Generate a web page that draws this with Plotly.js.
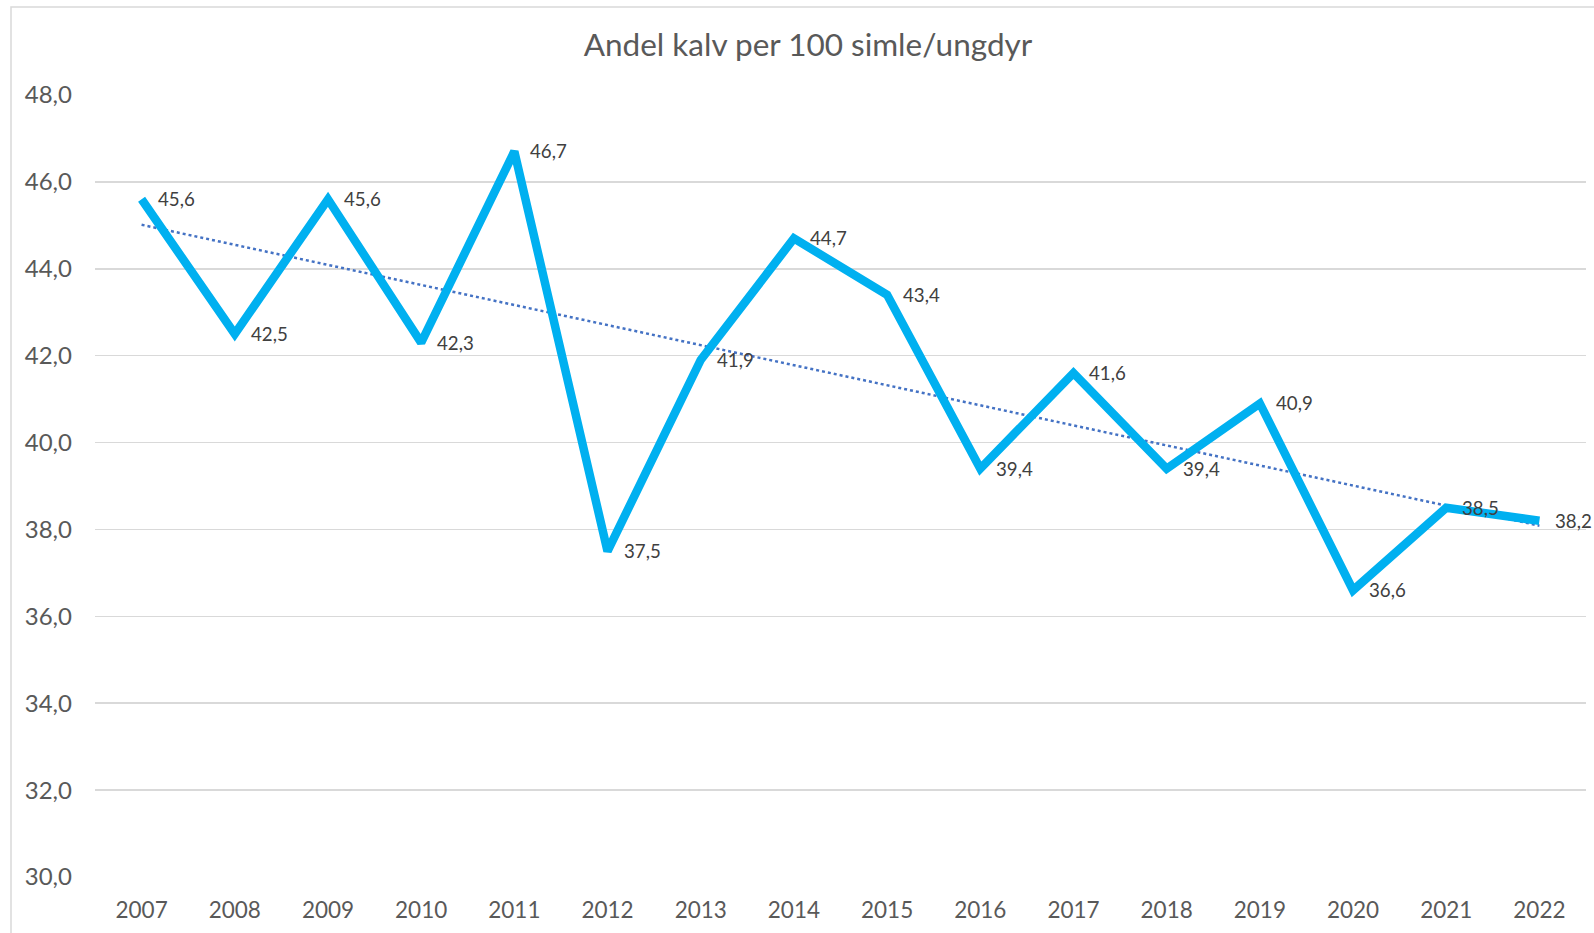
<!DOCTYPE html>
<html>
<head>
<meta charset="utf-8">
<script src="https://cdn.plot.ly/plotly-3.0.1.min.js"></script>
<style>html,body{margin:0;padding:0;background:#fff;}#chart{width:1594px;height:933px;}</style>
</head>
<body>
<div id="chart"></div>
<script>
const years = ["2007","2008","2009","2010","2011","2012","2013","2014","2015","2016","2017","2018","2019","2020","2021","2022"];
const values = [45.6,42.5,45.6,42.3,46.7,37.5,41.9,44.7,43.4,39.4,41.6,39.4,40.9,36.6,38.5,38.2];
const yTicks = [30,32,34,36,38,40,42,44,46,48];
const titleText = "Andel kalv per 100 simle/ungdyr";

const fmt = v => v.toFixed(1).replace('.', ',');

// Linear trendline (least squares) derived from the series
const n = values.length;
const idx = values.map((_, i) => i);
const mx = idx.reduce((a, b) => a + b, 0) / n;
const my = values.reduce((a, b) => a + b, 0) / n;
let sxy = 0, sxx = 0;
idx.forEach((x, i) => { sxy += (x - mx) * (values[i] - my); sxx += (x - mx) * (x - mx); });
const slope = sxy / sxx;
const icpt = my - slope * mx;
const trend = idx.map(x => icpt + slope * x);

const FONT = "Lato, 'Open Sans', sans-serif";

const traces = [
  {
    x: idx, y: trend, type: 'scatter', mode: 'lines',
    line: {color: '#4472C4', width: 2.5, dash: 'dot'},
    hoverinfo: 'skip', showlegend: false
  },
  {
    x: idx, y: values, type: 'scatter', mode: 'lines',
    line: {color: '#00B0F0', width: 8.5, shape: 'linear'},
    showlegend: false
  }
];

const annotations = idx.map(i => ({
  x: i, y: values[i], xref: 'x', yref: 'y',
  text: fmt(values[i]), showarrow: false,
  xanchor: 'left', yanchor: 'middle', xshift: 14,
  font: {family: FONT, size: 18.7, color: '#404040'}
}));

const layout = {
  width: 1594, height: 933,
  margin: {l: 95, r: 8, t: 95, b: 56, pad: 0},
  paper_bgcolor: '#ffffff', plot_bgcolor: '#ffffff',
  showlegend: false,
  title: {
    text: titleText, xref: 'container', yref: 'container',
    x: 808/1594, y: 1 - 45/933, xanchor: 'center', yanchor: 'middle',
    font: {family: FONT, size: 31.5, color: '#595959'}
  },
  xaxis: {
    type: 'linear', range: [-0.5, 15.5], fixedrange: true,
    tickvals: idx, ticktext: years,
    showgrid: false, zeroline: false, showline: false, ticks: '',
    tickfont: {family: FONT, size: 22.5, color: '#595959'},
    ticklabelstandoff: 17
  },
  yaxis: {
    range: [30, 48], tickvals: yTicks, ticktext: yTicks.map(fmt),
    showgrid: true, gridcolor: '#D9D9D9', gridwidth: 1.5,
    zeroline: false, showline: false, ticks: '',
    tickfont: {family: FONT, size: 24, color: '#595959'},
    ticklabelstandoff: 22
  },
  annotations: annotations,
  shapes: [{
    type: 'rect', xref: 'paper', yref: 'paper',
    x0: (11 - 95) / 1491, x1: 1.2, y0: -0.3, y1: (877 - 7) / 782,
    line: {color: '#D9D9D9', width: 1.5}, layer: 'below'
  }]
};

Plotly.newPlot('chart', traces, layout, {displayModeBar: false, staticPlot: true});
</script>
</body>
</html>
